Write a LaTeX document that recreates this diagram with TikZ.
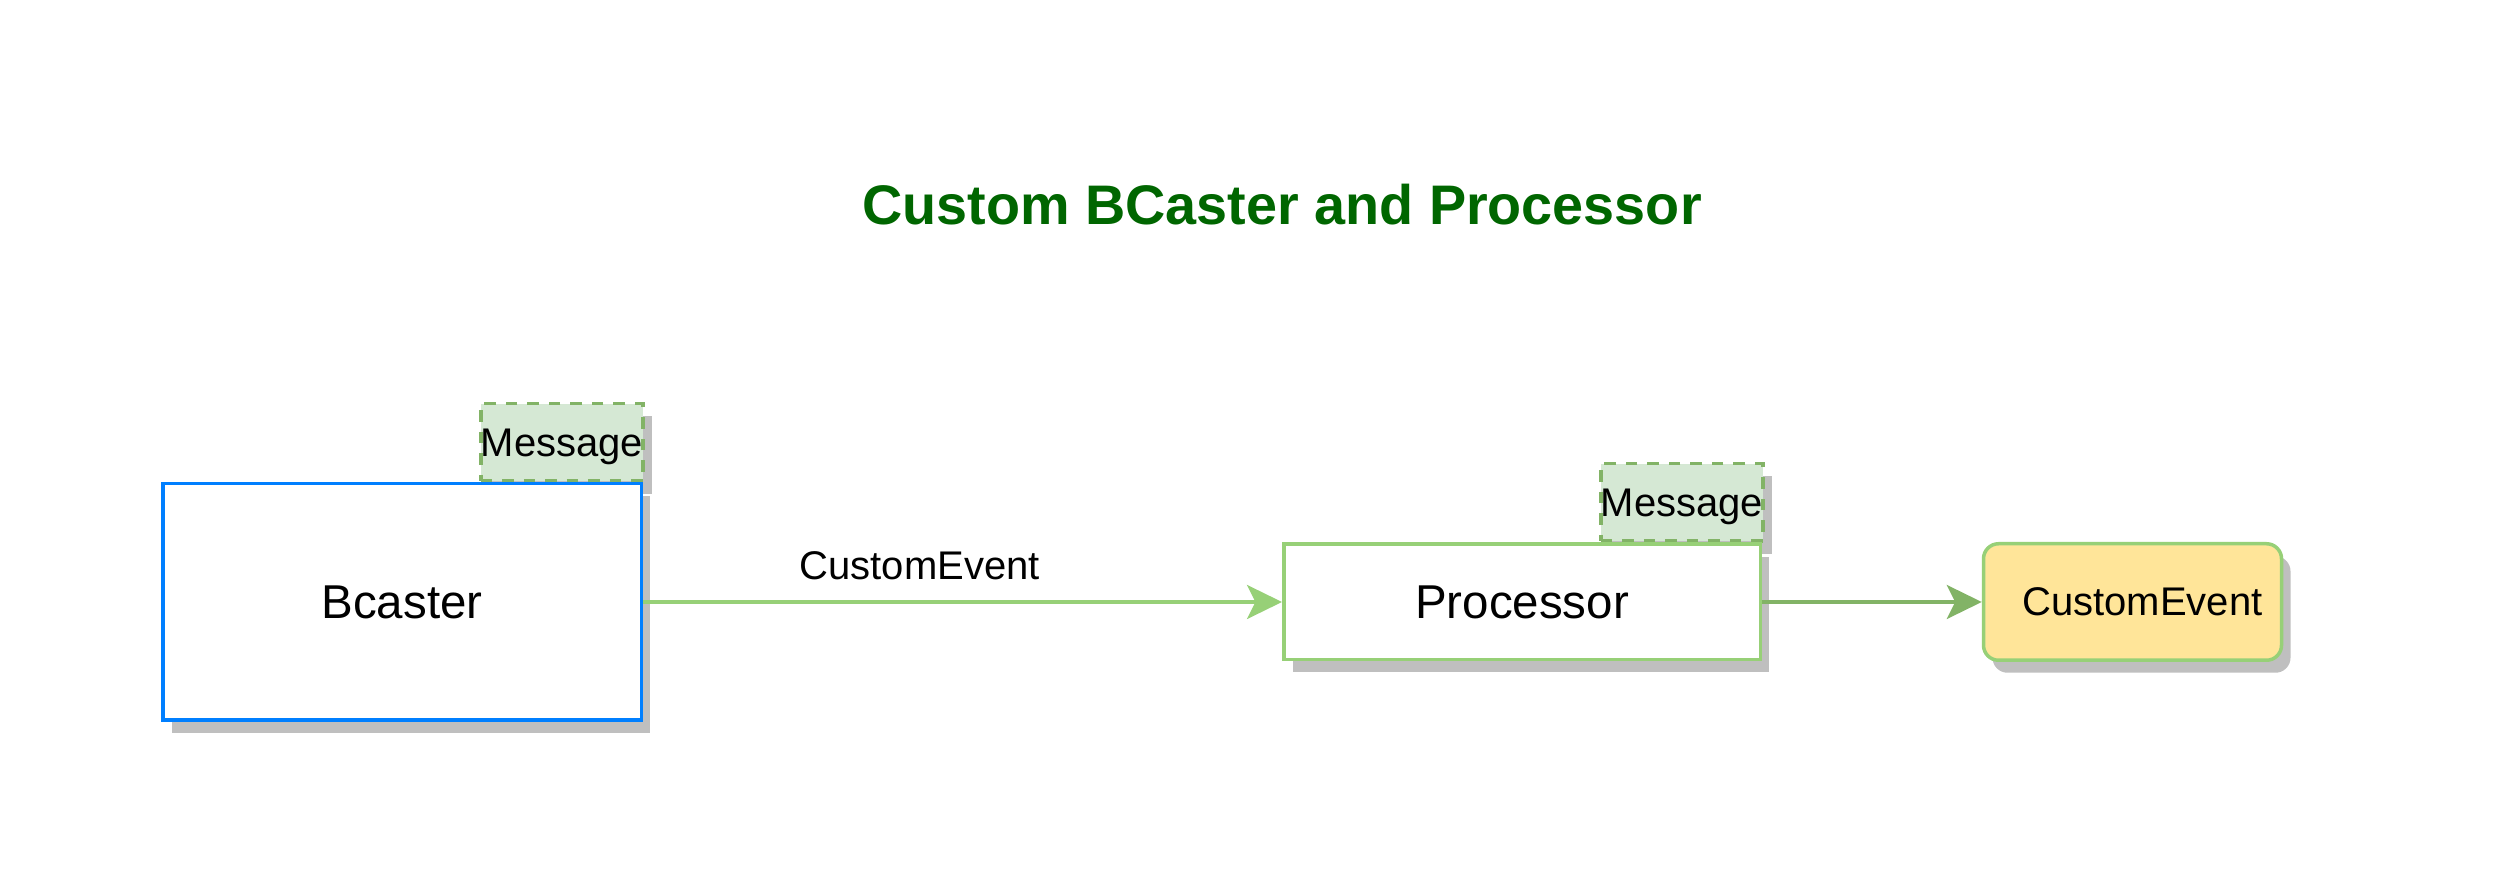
\documentclass[tikz,border=0pt]{standalone}
\usepackage{fontspec}
\setmainfont{Liberation Sans}
\usepackage{xcolor}
\usetikzlibrary{arrows.meta,shadows}

\definecolor{bcblue}{HTML}{007FFF}
\definecolor{lightgreen}{HTML}{97D077}
\definecolor{darkgreen}{HTML}{82B366}
\definecolor{msgfill}{HTML}{D5E8D4}
\definecolor{eventfill}{HTML}{FFE599}
\definecolor{titlegreen}{HTML}{006600}

\tikzset{
  boxshadow/.style={drop shadow={shadow xshift=3.6pt,shadow yshift=-5pt,fill=black,opacity=0.25}},
  compbox/.style={draw, line width=1.4pt, fill=white, boxshadow, inner sep=0pt,
    font=\fontsize{19}{23}\selectfont, text depth=0pt},
  msgbox/.style={draw=darkgreen, fill=msgfill, dash pattern=on 4.6pt off 4pt, line width=1.4pt,
    boxshadow, minimum width=62.6pt, minimum height=31pt, inner sep=0pt,
    font=\fontsize{16}{19}\selectfont, text depth=0pt},
  eventbox/.style={draw=lightgreen, fill=eventfill, rounded corners=6pt, line width=1.4pt, boxshadow,
    minimum width=119pt, minimum height=46.6pt, inner xsep=7.6pt, inner ysep=0pt,
    text width=104pt, align=right, font=\fontsize{16}{19}\selectfont, text depth=0pt},
  flow/.style={line width=1.4pt, -{Stealth[length=14pt,width=13.6pt,inset=3.4pt]}},
}

\begin{document}
\begin{tikzpicture}
\path[fill=white, use as bounding box] (0,0) rectangle (998.4pt,358.4pt);

% title
\node[anchor=base, text=titlegreen, font=\fontsize{22.3}{27}\selectfont\bfseries] (title) at (512.8pt,268.4pt) {Custom BCaster and Processor};

% messages sit on the top right corner of their boxes
\node[msgbox] (bmsg) at (224.8pt,181.4pt) {Message};
\node[msgbox] (pmsg) at (672.8pt,157.4pt) {Message};

\node[compbox, draw=bcblue, minimum width=191.4pt, minimum height=94.6pt] (bcaster) at (160.8pt,117.6pt) {Bcaster};
\node[compbox, draw=lightgreen, minimum width=190.6pt, minimum height=46.2pt] (proc) at (608.8pt,117.6pt) {Processor};
\node[eventbox] (event) at (853pt,117.6pt) {CustomEvent};

% connectors
\draw[flow, draw=lightgreen, fill=lightgreen] (bcaster.east) -- node[pos=0.433, anchor=base, yshift=8.8pt, font=\fontsize{16}{19}\selectfont] (evlabel) {CustomEvent} (proc.west);
\draw[flow, draw=darkgreen, fill=darkgreen] (proc.east) -- (event.west);
\end{tikzpicture}
\end{document}
